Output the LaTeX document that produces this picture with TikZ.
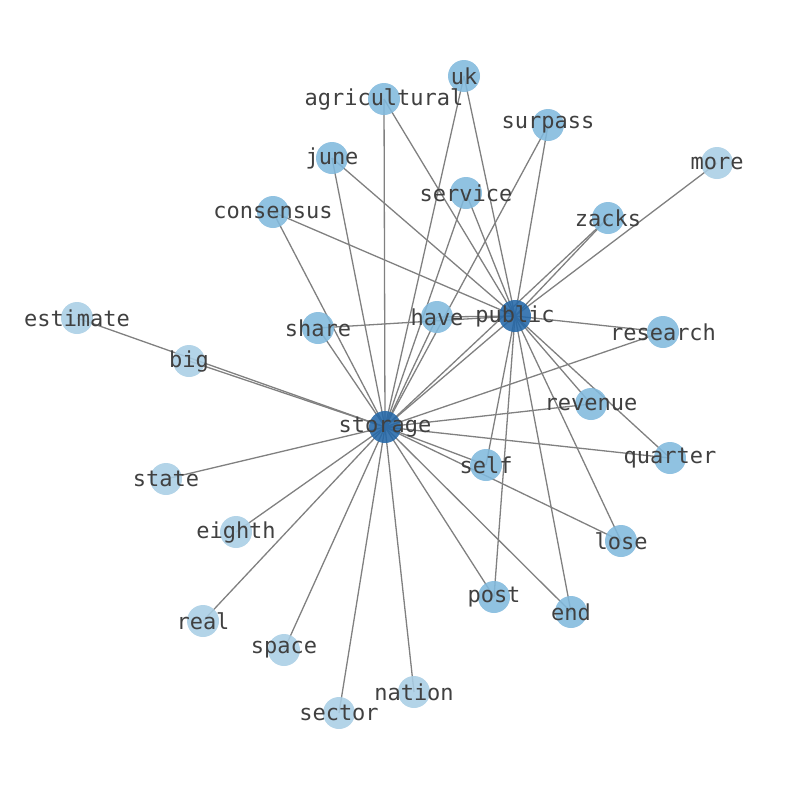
\documentclass[tikz,border=0pt]{standalone}
\usepackage{fontspec}
\newfontfamily\lblfont{DejaVu Sans Mono}
\pgfdeclarelayer{bg}
\pgfsetlayers{bg,main}
\definecolor{dark}{RGB}{36,104,168}
\definecolor{mid}{RGB}{129,185,221}
\definecolor{light}{RGB}{169,206,229}
\definecolor{txt}{RGB}{64,64,64}
\definecolor{edge}{RGB}{128,128,128}
\tikzset{
  dot/.style={circle, draw=none, minimum size=32pt, inner sep=0pt, fill opacity=0.88},
  dk/.style={dot, fill=dark},
  md/.style={dot, fill=mid},
  lt/.style={dot, fill=light},
  lbl/.style={text=txt, inner sep=0pt, font=\lblfont\fontsize{22}{24}\selectfont},
  con/.style={draw=edge, line width=1.3pt}
}
\begin{document}
\begin{tikzpicture}[x=1pt,y=-1pt]
\useasboundingbox (0,0) rectangle (794,790);
% nodes
\node[dk] (storage) at (385,427) {};
\node[dk] (public) at (515,316) {};
\node[md] (uk) at (464,76) {};
\node[md] (agricultural) at (384,99) {};
\node[md] (surpass) at (548,125) {};
\node[md] (june) at (332,158) {};
\node[lt] (more) at (717,163) {};
\node[md] (service) at (466,193) {};
\node[md] (consensus) at (273,212) {};
\node[md] (zacks) at (608,218) {};
\node[lt] (estimate) at (77,318) {};
\node[md] (share) at (318,328) {};
\node[md] (have) at (437,317) {};
\node[md] (research) at (663,332) {};
\node[lt] (big) at (189,361) {};
\node[md] (revenue) at (591,404) {};
\node[md] (quarter) at (670,458) {};
\node[md] (self) at (486,465) {};
\node[lt] (state) at (166,479) {};
\node[lt] (eighth) at (236,532) {};
\node[md] (lose) at (621,541) {};
\node[md] (post) at (494,597) {};
\node[md] (end) at (571,612) {};
\node[lt] (real) at (203,621) {};
\node[lt] (space) at (284,650) {};
\node[lt] (nation) at (414,692) {};
\node[lt] (sector) at (339,713) {};
% edges
\begin{pgfonlayer}{bg}
\foreach \n in {public,uk,agricultural,surpass,june,service,consensus,zacks,estimate,share,have,research,big,revenue,quarter,self,state,eighth,lose,post,end,real,space,nation,sector}
  \draw[con] (storage.center) -- (\n.center);
\foreach \n in {uk,agricultural,surpass,june,more,service,consensus,zacks,share,have,research,revenue,quarter,self,lose,post,end}
  \draw[con] (public.center) -- (\n.center);
\end{pgfonlayer}
% labels
\foreach \n in {storage,public,uk,agricultural,surpass,june,more,service,consensus,zacks,estimate,share,have,research,big,revenue,quarter,self,state,eighth,lose,post,end,real,space,nation,sector}
  \node[lbl] (\n-l) at (\n.center) {\n};
\end{tikzpicture}
\end{document}
